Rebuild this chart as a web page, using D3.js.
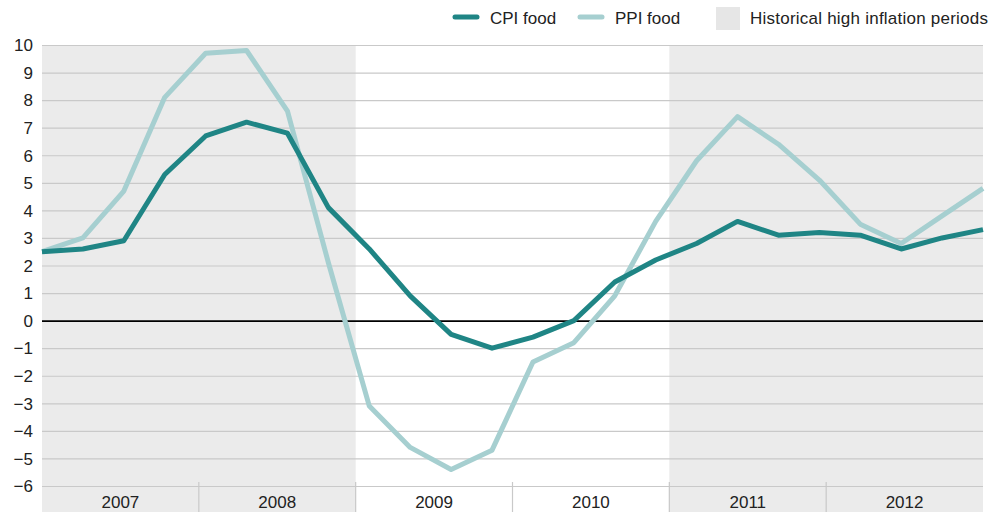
<!DOCTYPE html>
<html>
<head>
<meta charset="utf-8">
<script src="https://cdn.jsdelivr.net/npm/d3@7"></script>
<style>
  body { margin: 0; background: #fff; }
  svg text { font-family: "Liberation Sans", Arial, sans-serif; fill: #222; }
</style>
</head>
<body>
<div id="chart"></div>
<script>
// quarterly food inflation, % y/y
const years = [2007, 2008, 2009, 2010, 2011, 2012];
const quarters = years.flatMap(y => ['Q1', 'Q2', 'Q3', 'Q4'].map(q => `${y}${q}`));
const cpiFood = [2.5, 2.6, 2.9, 5.3, 6.7, 7.2, 6.8, 4.1,
                 2.6, 0.9, -0.5, -1.0, -0.6, 0.0, 1.4, 2.2,
                 2.8, 3.6, 3.1, 3.2, 3.1, 2.6, 3.0, 3.3];
const ppiFood = [2.5, 3.0, 4.7, 8.1, 9.7, 9.8, 7.6, 2.1,
                 -3.1, -4.6, -5.4, -4.7, -1.5, -0.8, 0.9, 3.6,
                 5.8, 7.4, 6.4, 5.1, 3.5, 2.8, 3.8, 4.8];
const highInflation = [[2007, 2008], [2011, 2012]];
const yTicks = d3.range(-6, 11);

const width = 1003, height = 512;
const margin = { left: 42, right: 983, top: 45, bottom: 486 };

const svg = d3.select('#chart').append('svg')
  .attr('width', width)
  .attr('height', height);

let x = d3.scalePoint().domain(quarters).range([margin.left, margin.right]);
let xYear = d3.scaleBand().domain(years).range([margin.left, margin.right]);
let y = d3.scaleLinear().domain([-6, 10]).range([margin.bottom, margin.top]);

// shaded periods
svg.append('g').selectAll('rect')
  .data(highInflation)
  .enter().append('rect')
  .attr('x', d => xYear(d[0]))
  .attr('width', d => xYear(d[1]) + xYear.bandwidth() - xYear(d[0]))
  .attr('y', margin.top)
  .attr('height', height - margin.top)
  .attr('fill', '#ebebeb');

// gridlines + y labels
let yAxis = d3.axisLeft(y)
  .tickValues(yTicks)
  .tickSize(-(margin.right - margin.left))
  .tickPadding(9)
  .tickFormat(d => d < 0 ? '\u2212' + Math.abs(d) : d);

let gy = svg.append('g')
  .attr('transform', `translate(${margin.left},0)`)
  .call(yAxis);
gy.select('.domain').remove();
gy.selectAll('.tick line')
  .attr('stroke', d => d === 0 ? '#000' : '#c9c9c9')
  .attr('stroke-width', d => d === 0 ? 1.6 : 1.2);
gy.selectAll('.tick text')
  .attr('font-size', 17)
  .attr('dy', '0.34em');

// year band axis
let gx = svg.append('g');
gx.selectAll('line')
  .data(years.slice(1))
  .enter().append('line')
  .attr('x1', d => xYear(d))
  .attr('x2', d => xYear(d))
  .attr('y1', margin.bottom - 4)
  .attr('y2', height)
  .attr('stroke', '#c9c9c9')
  .attr('stroke-width', 1.2);
gx.selectAll('text')
  .data(years)
  .enter().append('text')
  .attr('x', d => xYear(d) + xYear.bandwidth() / 2)
  .attr('y', 508)
  .attr('text-anchor', 'middle')
  .attr('font-size', 17)
  .text(d => d);

// lines
let line = d3.line()
  .x((d, i) => x(quarters[i]))
  .y(d => y(d));

const series = [
  { name: 'PPI food', values: ppiFood, color: '#a6cfd0' },
  { name: 'CPI food', values: cpiFood, color: '#1f8585' }
];

svg.append('g').selectAll('path')
  .data(series)
  .enter().append('path')
  .attr('d', d => line(d.values))
  .attr('fill', 'none')
  .attr('stroke', d => d.color)
  .attr('stroke-width', 5)
  .attr('stroke-linejoin', 'round');

// legend
let legend = svg.append('g').attr('class', 'legend');
const legendItems = [
  { name: 'CPI food', color: '#1f8585', x: 453, type: 'line' },
  { name: 'PPI food', color: '#a6cfd0', x: 578, type: 'line' },
  { name: 'Historical high inflation periods', color: '#e6e6e6', x: 716, type: 'box' }
];
legendItems.forEach(item => {
  if (item.type === 'line') {
    legend.append('line')
      .attr('x1', item.x + 2).attr('x2', item.x + 24)
      .attr('y1', 17).attr('y2', 17)
      .attr('stroke', item.color)
      .attr('stroke-width', 5)
      .attr('stroke-linecap', 'round');
  } else {
    legend.append('rect')
      .attr('x', item.x).attr('y', 7)
      .attr('width', 24).attr('height', 23)
      .attr('fill', item.color);
  }
  let t = legend.append('text')
    .attr('x', item.x + (item.type === 'line' ? 37 : 34))
    .attr('y', 24)
    .attr('font-size', 17)
    .text(item.name);
  if (item.type === 'box') t.attr('textLength', 238);
});
</script>
</body>
</html>
